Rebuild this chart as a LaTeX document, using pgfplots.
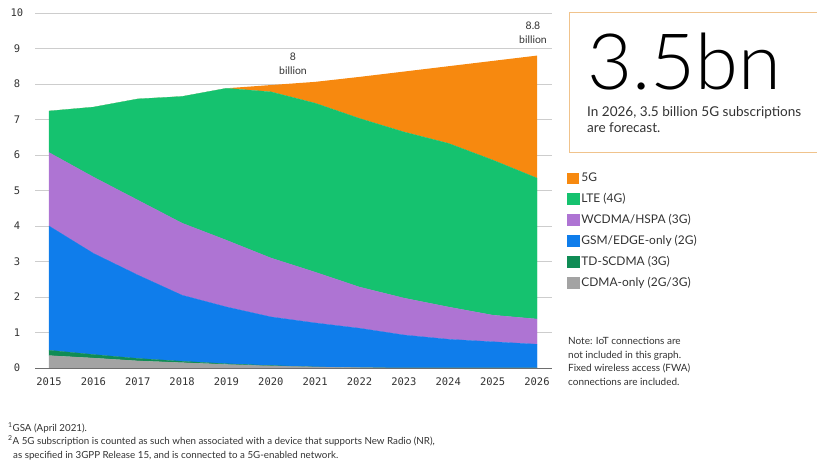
\documentclass[border=0pt]{standalone}
\usepackage{pgfplots}
\pgfplotsset{compat=1.18}
\usepackage{fontspec}
\setmainfont{Lato}
\newfontfamily\mono{DejaVu Sans Mono}
\newfontfamily\light{Lato Light}
\definecolor{c5g}{RGB}{247,137,15}
\definecolor{clte}{RGB}{21,194,111}
\definecolor{cwcdma}{RGB}{174,116,211}
\definecolor{cgsm}{RGB}{15,125,235}
\definecolor{ctd}{RGB}{15,140,85}
\definecolor{ccdma}{RGB}{163,163,163}
\definecolor{gridc}{RGB}{205,205,205}
\definecolor{axc}{RGB}{110,110,110}
\definecolor{txt}{RGB}{50,50,50}
\definecolor{boxc}{RGB}{240,195,140}
\begin{document}
\begin{tikzpicture}
\useasboundingbox (0,0) rectangle (817bp,463bp);
\begin{axis}[
  at={(35bp,95bp)}, anchor=south west,
  scale only axis, width=517bp, height=355bp,
  xmin=2014.684, xmax=2026.338, ymin=0, ymax=10,
  stack plots=y,
  axis x line=bottom, axis y line=left,
  x axis line style={draw=axc, line width=1pt, -},
  y axis line style={draw=none, -},
  xtick={2015,...,2026}, ytick={0,...,10},
  ymajorgrids, grid style={draw=gridc, line width=0.7pt},
  major tick length=0pt,
  /pgf/number format/1000 sep={},
  /pgf/number format/assume math mode=true,
  ticklabel style={font=\mono\fontsize{10.5}{12}\selectfont, text=txt},
  xticklabel style={yshift=-6bp},
  yticklabel style={anchor=center, xshift=-18bp},
  reverse legend,
  legend style={at={(1.029,0.555)}, anchor=north west, draw=none, fill=none,
    font=\fontsize{12}{14}\selectfont, text=txt, row sep=6.2bp, inner sep=0pt,
    cells={anchor=west}},
  legend image code/.code={\fill[#1] (0bp,-5.5bp) rectangle (12bp,5.5bp);},
]
\addplot[fill=ccdma, draw=ccdma, line width=0.2pt] coordinates {(2015,0.35) (2016,0.28) (2017,0.20) (2018,0.15) (2019,0.10) (2020,0.06) (2021,0.03) (2022,0.01) (2023,0) (2024,0) (2025,0) (2026,0)} \closedcycle;
\addplot[fill=ctd, draw=ctd, line width=0.2pt] coordinates {(2015,0.15) (2016,0.10) (2017,0.07) (2018,0.04) (2019,0.02) (2020,0.01) (2021,0) (2022,0) (2023,0) (2024,0) (2025,0) (2026,0)} \closedcycle;
\addplot[fill=cgsm, draw=cgsm, line width=0.2pt] coordinates {(2015,3.50) (2016,2.85) (2017,2.35) (2018,1.86) (2019,1.60) (2020,1.37) (2021,1.24) (2022,1.11) (2023,0.93) (2024,0.81) (2025,0.74) (2026,0.67)} \closedcycle;
\addplot[fill=cwcdma, draw=cwcdma, line width=0.2pt] coordinates {(2015,2.07) (2016,2.15) (2017,2.11) (2018,2.03) (2019,1.88) (2020,1.66) (2021,1.43) (2022,1.16) (2023,1.04) (2024,0.91) (2025,0.75) (2026,0.71)} \closedcycle;
\addplot[fill=clte, draw=clte, line width=0.2pt] coordinates {(2015,1.17) (2016,1.97) (2017,2.85) (2018,3.57) (2019,4.28) (2020,4.68) (2021,4.76) (2022,4.75) (2023,4.68) (2024,4.61) (2025,4.37) (2026,3.97)} \closedcycle;
\addplot[fill=c5g, draw=none] coordinates {(2015,0) (2016,0) (2017,0) (2018,0) (2019,0) (2020,0.19) (2021,0.60) (2022,1.17) (2023,1.70) (2024,2.17) (2025,2.79) (2026,3.45)} \closedcycle;
\legend{CDMA-only (2G/3G), TD-SCDMA (3G), GSM/EDGE-only (2G), WCDMA/HSPA (3G), LTE (4G), 5G}
\end{axis}
% annotations
\begin{scope}[every node/.style={inner sep=0pt, text=txt, font=\fontsize{10.5}{12}\selectfont}]
\node[anchor=base] at (293bp,402bp) {8};
\node[anchor=base] at (293bp,388bp) {billion};
\node[anchor=base] at (533bp,433bp) {8.8};
\node[anchor=base] at (533bp,419bp) {billion};
\end{scope}
% box
\draw[boxc, line width=1pt] (830bp,450bp) -- (569bp,450bp) -- (569bp,310bp) -- (830bp,310bp);
\node[anchor=base west, inner sep=0pt, text=black, font=\light\fontsize{78}{78}\selectfont] at (587bp,373bp) {3.5bn};
\node[anchor=base west, inner sep=0pt, text=txt, font=\fontsize{13.6}{15}\selectfont] at (587bp,346bp) {In 2026, 3.5 billion 5G subscriptions};
\node[anchor=base west, inner sep=0pt, text=txt, font=\fontsize{13.6}{15}\selectfont] at (587bp,330bp) {are forecast.};
% note
\begin{scope}[every node/.style={anchor=base west, inner sep=0pt, text=txt, font=\fontsize{10}{12}\selectfont}]
\node at (568bp,118bp) {Note: IoT connections are};
\node at (568bp,104bp) {not included in this graph.};
\node at (568bp,91bp) {Fixed wireless access (FWA)};
\node at (568bp,77bp) {connections are included.};
\end{scope}
% footnotes
\begin{scope}[every node/.style={anchor=base west, inner sep=0pt, text=txt, font=\fontsize{9.8}{11}\selectfont}]
\node at (8bp,32bp) {\textsuperscript{1}GSA (April 2021).};
\node at (8bp,19bp) {\textsuperscript{2}A 5G subscription is counted as such when associated with a device that supports New Radio (NR),};
\node at (13bp,5bp) {as specified in 3GPP Release 15, and is connected to a 5G-enabled network.};
\end{scope}
\end{tikzpicture}
\end{document}
